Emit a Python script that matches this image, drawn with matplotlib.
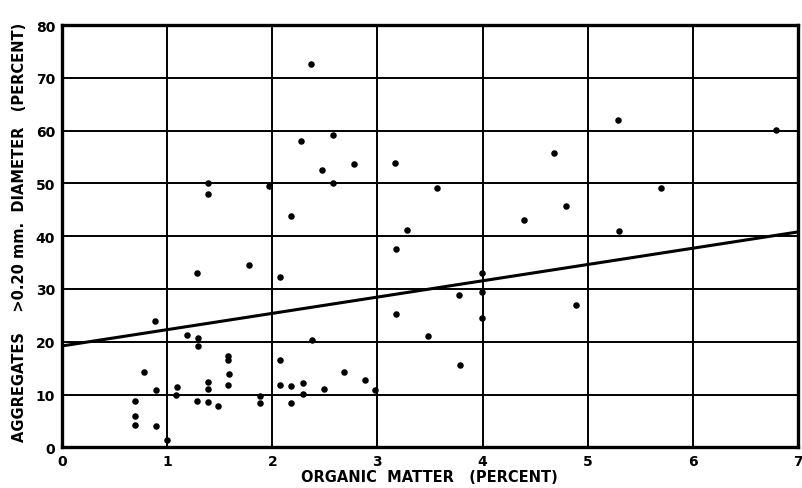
import matplotlib
matplotlib.use("Agg")
import matplotlib.pyplot as plt
import numpy as np

# Data
organic_matter = [
    2.37, 2.27, 2.58, 2.47, 2.78, 3.17, 2.58, 1.97, 3.57, 2.18, 3.28,
    1.39, 1.39, 1.28, 1.78, 2.07, 3.18, 0.885, 1.19, 1.29, 1.29, 2.38, 3.18,
    1.58, 1.58, 0.78, 1.59, 0.89, 1.09, 1.08, 1.39, 1.39, 1.58, 0.69, 1.28,
    1.39, 1.48, 0.69, 0.69, 0.89, 1.00,
    2.07, 2.68, 2.88, 2.07, 2.18, 2.29, 2.49, 2.98, 2.29, 1.88, 1.88, 2.18,
    3.99, 3.99, 3.78, 3.99, 3.48, 3.79, 4.89,
    5.29, 4.68, 6.79, 5.70, 4.79, 4.39, 5.30,
]
aggregates = [
    72.6, 58.0, 59.2, 52.5, 53.7, 53.9, 50.0, 49.5, 49.2, 43.75, 41.2,
    50.0, 47.9, 33.1, 34.5, 32.2, 37.6, 24.0, 21.2, 20.7, 19.2, 20.4, 25.2,
    17.3, 16.6, 14.2, 13.9, 10.9, 11.5, 10.0, 12.3, 11.0, 11.8, 8.8, 8.8,
    8.6, 7.8, 6.0, 4.3, 4.0, 1.3,
    16.5, 14.2, 12.7, 11.8, 11.7, 12.1, 11.0, 10.9, 10.1, 9.8, 8.4, 8.4,
    33.1, 29.5, 28.8, 24.5, 21.1, 15.6, 27.0,
    62.0, 55.7, 60.1, 49.1, 45.8, 43.1, 41.0,
]
line_x = [0, 7]
line_y = [19.2, 40.8]
x_ticks = [0, 1, 2, 3, 4, 5, 6, 7]
y_ticks = [0, 10, 20, 30, 40, 50, 60, 70, 80]

W, H = 803, 489
fig = plt.figure(figsize=(W / 100, H / 100), dpi=100)
ax = fig.add_axes([62 / W, (H - 448.3) / H, (798 - 62) / W, (448.3 - 26) / H])

ax.set_xlim(0, 7)
ax.set_ylim(0, 80)
ax.set_xticks(x_ticks)
ax.set_yticks(y_ticks)
ax.grid(True, color="black", linewidth=1.4)
ax.set_axisbelow(True)
for s in ax.spines.values():
    s.set_linewidth(2.4)
    s.set_color("black")
ax.tick_params(length=0, pad=5, labelsize=10)
for lab in ax.get_xticklabels() + ax.get_yticklabels():
    lab.set_fontweight("bold")

ax.plot(line_x, line_y, color="black", linewidth=2.2, zorder=3)
ax.scatter(organic_matter, aggregates, s=22, color="black", zorder=4, linewidths=0)

fig.text((291 + 568) / 2 / W, 1 - 478 / H, "ORGANIC  MATTER   (PERCENT)",
         ha="center", va="center", fontsize=10.5, fontweight="bold")
fig.text(20 / W, 1 - 232 / H,
         "AGGREGATES    >0.20 mm.  DIAMETER   (PERCENT)",
         ha="center", va="center", rotation=90, fontsize=10.5, fontweight="bold")

fig.savefig("out.png", dpi=100)
